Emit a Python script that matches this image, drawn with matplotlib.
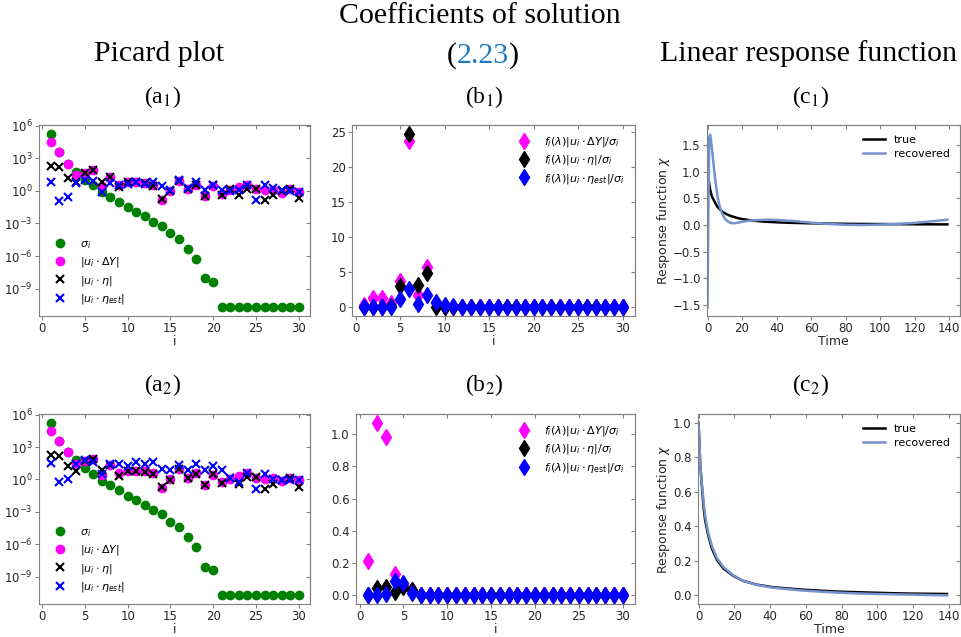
import matplotlib
matplotlib.use("Agg")
import matplotlib.pyplot as plt
from matplotlib.offsetbox import TextArea, HPacker, AnnotationBbox

# index of singular values
idx = list(range(1, 31))

# Picard plot values (same sigma, dY, eta in both rows)
sigma = [1.7e5, 4.0e3, 3.2e2, 58, 11, 3.1, 0.74, 0.28, 0.1, 0.032,
         0.0126, 4.4e-3, 1.4e-3, 6.0e-4, 1.26e-4, 4.0e-5, 5.0e-6, 5.5e-7, 8.9e-9, 4.0e-9,
         2e-11, 2e-11, 2e-11, 2e-11, 2e-11, 2e-11, 2e-11, 2e-11, 2e-11, 2e-11]
u_dy = [3.2e4, 3.9e3, 3.2e2, 28, 47, 81, 2.7, 20, 3.8, 6.3,
        6.3, 5.5, 3.8, 0.155, 1.0, 8.9, 1.5, 3.8, 0.32, 2.7,
        0.56, 1.15, 2.3, 3.8, 1.5, 1.15, 1.3, 0.7, 1.5, 0.81]
u_eta = [174, 162, 16.6, 5.9, 47, 81, 7.1, 20, 2.2, 5.9,
         5.9, 5.1, 3.0, 0.195, 0.89, 8.7, 1.4, 3.2, 0.33, 3.2,
         0.46, 1.5, 0.42, 1.6, 1.6, 0.145, 0.42, 0.89, 1.4, 0.22]
u_est1 = [6.8, 0.126, 0.25, 5.5, 11, 8.9, 0.81, 5.5, 3.8, 4.7,
          6.3, 4.7, 7.2, 2.7, 1.15, 11, 1.9, 6.3, 1.3, 3.8,
          1.3, 1.0, 1.3, 3.8, 0.135, 3.1, 1.9, 1.15, 1.0, 0.81]
u_est2 = [33, 0.56, 1.15, 29, 58, 41, 3.4, 25, 25, 17,
          41, 29, 41, 9.8, 6.9, 23, 6.9, 29, 6.9, 17,
          6.9, 1.3, 0.56, 4.2, 0.135, 3.4, 1.15, 0.93, 0.81, 0.81]

# coefficients of solution
b1_dy = [0.33, 1.2, 1.2, 0.6, 3.65, 23.6, 1.66, 5.7, 0.5, 0.05] + [0.02] * 20
b1_eta = [0.02, 0.05, 0.05, 0.1, 3.0, 24.7, 3.1, 4.9, 0.0, 0.02] + [0.0] * 20
b1_est = [0.0, 0.0, 0.0, 0.0, 1.1, 2.5, 0.4, 1.65, 0.65, 0.2, 0.1] + [0.0] * 19
b2_dy = [0.214, 1.07, 0.98, 0.134, 0.062, 0.03] + [0.0] * 24
b2_eta = [0.0, 0.045, 0.05, 0.023, 0.052, 0.031] + [0.0] * 24
b2_est = [0.0, 0.0, 0.01, 0.087, 0.076, 0.014] + [0.0] * 24

# linear response functions
t_true = [0, 1, 1.5, 2.5, 4.4, 5.6, 7.3, 9, 11, 13, 15, 17, 19.6, 25, 32.6, 42, 50, 57, 70, 80, 90, 100, 110, 120, 130, 139]
chi_true = [1.0, 0.77, 0.67, 0.54, 0.42, 0.35, 0.29, 0.24, 0.205, 0.175, 0.155, 0.135, 0.115, 0.088, 0.064, 0.048, 0.04, 0.034,
            0.027, 0.023, 0.02, 0.018, 0.016, 0.014, 0.013, 0.012]
t_rec1 = [0, 0.5, 1, 1.5, 2, 3, 4, 5, 6, 7, 8, 10, 12, 14, 16, 18, 20, 25, 30, 35, 40, 45, 50, 60, 70, 80, 90, 100, 110, 120, 130, 139]
chi_rec1 = [-1.55, 0.3, 1.65, 1.7, 1.6, 1.3, 0.98, 0.72, 0.5, 0.36, 0.25, 0.12, 0.06, 0.035, 0.035, 0.045, 0.06, 0.085, 0.095,
            0.1, 0.095, 0.085, 0.075, 0.045, 0.02, 0.005, 0.0, 0.008, 0.02, 0.04, 0.07, 0.1]
t_rec2 = [0, 1, 2, 3, 4, 5.6, 7.5, 10.3, 14, 19.6, 25, 32.6, 42, 57, 70, 80, 90, 100, 110, 120, 130, 139]
chi_rec2 = [1.0, 0.75, 0.63, 0.52, 0.44, 0.355, 0.285, 0.215, 0.163, 0.115, 0.084, 0.06, 0.044, 0.029, 0.02, 0.015, 0.011,
            0.008, 0.006, 0.004, 0.002, 0.0]
t_true2 = [0, 0.93, 1.9, 2.8, 3.7, 5.6, 7.5, 10.3, 14, 19.6, 25, 32.6, 42, 57, 70, 80, 90, 100, 110, 120, 130, 139]
chi_true2 = [1.0, 0.76, 0.63, 0.51, 0.435, 0.34, 0.27, 0.205, 0.155, 0.112, 0.084, 0.062, 0.047, 0.034, 0.026, 0.021, 0.018,
             0.015, 0.012, 0.01, 0.009, 0.008]

plt.rcParams['font.size'] = 9
plt.rcParams['xtick.labelsize'] = 8.5
plt.rcParams['ytick.labelsize'] = 8.5
plt.rcParams['axes.edgecolor'] = '0.5'
plt.rcParams['xtick.color'] = '0.5'
plt.rcParams['ytick.color'] = '0.5'
plt.rcParams['xtick.labelcolor'] = '0.15'
plt.rcParams['ytick.labelcolor'] = '0.15'
plt.rcParams['axes.labelcolor'] = '0.15'
plt.rcParams['legend.frameon'] = False

W, H = 961, 637
fig = plt.figure(figsize=(W / 100, H / 100), dpi=100)


def px_axes(left, top, right, bottom):
    return fig.add_axes([left / W, 1 - bottom / H, (right - left) / W, (bottom - top) / H])


def inner_ticks(ax):
    ax.tick_params(direction='out', length=3, pad=1.5)
    sec = ax.secondary_xaxis('top')
    sec.set_xticks(ax.get_xticks())
    sec.tick_params(direction='in', length=3, labeltop=False)
    sec = ax.secondary_yaxis('right')
    sec.tick_params(direction='in', length=3, labelright=False)
    sec.set_yticks(ax.get_yticks())
    sec.set_ylim(ax.get_ylim())


def picard(ax, est, est_label):
    ax.set_yscale('log')
    ax.plot(idx, sigma, 'o', color='green', ms=6, label=r'$\sigma_i$')
    ax.plot(idx, u_dy, 'o', color='magenta', ms=6, label=r'$|u_i\cdot\Delta Y|$')
    ax.plot(idx, u_eta, 'x', color='black', ms=5.5, mew=1.5, label=r'$|u_i\cdot\eta|$')
    ax.plot(idx, est, 'x', color='blue', ms=5.5, mew=1.5, label=est_label)
    ax.set_xticks(range(0, 31, 5))
    ax.set_xlim(-0.35, 31.3)
    ax.set_yticks([1e-9, 1e-6, 1e-3, 1e0, 1e3, 1e6])
    ax.minorticks_off()
    ax.set_ylim(10 ** -11.5, 10 ** 6.05)
    ax.set_xlabel('i', labelpad=0)
    ax.legend(loc='lower left', fontsize=8, labelspacing=0.4)
    inner_ticks(ax)


def coeffs(ax, dy, eta, est, est_label):
    ax.plot(idx, dy, 'd', color='magenta', ms=8, label=r'$f_i(\lambda)|u_i\cdot\Delta Y|/\sigma_i$')
    ax.plot(idx, eta, 'd', color='black', ms=8, label=r'$f_i(\lambda)|u_i\cdot\eta|/\sigma_i$')
    ax.plot(idx, est, 'd', color='blue', ms=8, label=est_label)
    ax.set_xticks(range(0, 31, 5))
    ax.set_xlim(-0.4, 31.4)
    ax.set_xlabel('i', labelpad=0)
    ax.legend(loc='upper right', fontsize=8, labelspacing=0.4)
    inner_ticks(ax)


def response(ax, tt, ct, tr, cr):
    ax.plot(tt, ct, color='black', lw=1.8, label='true')
    ax.plot(tr, cr, color='#7393cc', lw=1.8, label='recovered')
    ax.set_xticks(range(0, 141, 20))
    ax.set_xlim(-0.3, 146.3)
    ax.set_xlabel('Time', labelpad=0)
    ax.set_ylabel(r'Response function $\chi$', labelpad=0.5)
    ax.legend(loc='upper right', fontsize=8, labelspacing=0.35)
    inner_ticks(ax)


a1 = px_axes(39, 125, 310, 316)
a2 = px_axes(39, 414, 310, 604)
b1 = px_axes(352, 125, 635, 316)
b2 = px_axes(356, 414, 635, 604)
c1 = px_axes(707, 125, 960, 316)
c2 = px_axes(698, 414, 960, 604)

picard(a1, u_est1, r'$|u_i\cdot\eta_{est}|$')
picard(a2, u_est2, r'$|u_i\cdot\eta_{est}|$')
b1.set_yticks([0, 5, 10, 15, 20, 25])
b1.set_ylim(-1.3, 25.95)
b2.set_ylim(-0.054, 1.124)
coeffs(b1, b1_dy, b1_eta, b1_est, r'$f_i(\lambda)|u_i\cdot\eta_{est}|/\sigma_i$')
coeffs(b2, b2_dy, b2_eta, b2_est, r'$f_i(\lambda)|u_i\cdot\eta_{\mathrm{est}}|/\sigma_i$')
c1.set_yticks([-1.5, -1.0, -0.5, 0.0, 0.5, 1.0, 1.5])
c1.set_ylim(-1.71, 1.88)
c2.set_ylim(-0.05, 1.05)
response(c1, t_true, chi_true, t_rec1, chi_rec1)
response(c2, t_true2, chi_true2, t_rec2, chi_rec2)

# headers
serif = dict(family='Liberation Serif', color='black', ha='center', va='center')
fig.text(480 / W, 1 - 16 / H, 'Coefficients of solution', size=21.5, **serif)
fig.text(159 / W, 1 - 54 / H, 'Picard plot', size=21.5, **serif)
fig.text(809 / W, 1 - 54 / H, 'Linear response function', size=21.5, **serif)
tp = dict(family='Liberation Serif', size=21.5)
box = HPacker(children=[TextArea('(', textprops=dict(color='black', **tp)),
                        TextArea('2.23', textprops=dict(color='#1b79c4', **tp)),
                        TextArea(')', textprops=dict(color='black', **tp))],
              pad=0, sep=0, align='baseline')
fig.add_artist(AnnotationBbox(box, (483 / W, 1 - 56 / H), xycoords='figure fraction',
                              frameon=False, box_alignment=(0.5, 0.5)))
for name, x, y in [('a', 162, 97), ('b', 484, 97), ('c', 810, 97),
                   ('a', 162, 385), ('b', 484, 385), ('c', 810, 385)]:
    sub = '1' if y < 200 else '2'
    fig.text(x / W, 1 - y / H, '(%s$_%s$)' % (name, sub), size=17, math_fontfamily='stix', **serif)

fig.savefig('out.png', dpi=100)
